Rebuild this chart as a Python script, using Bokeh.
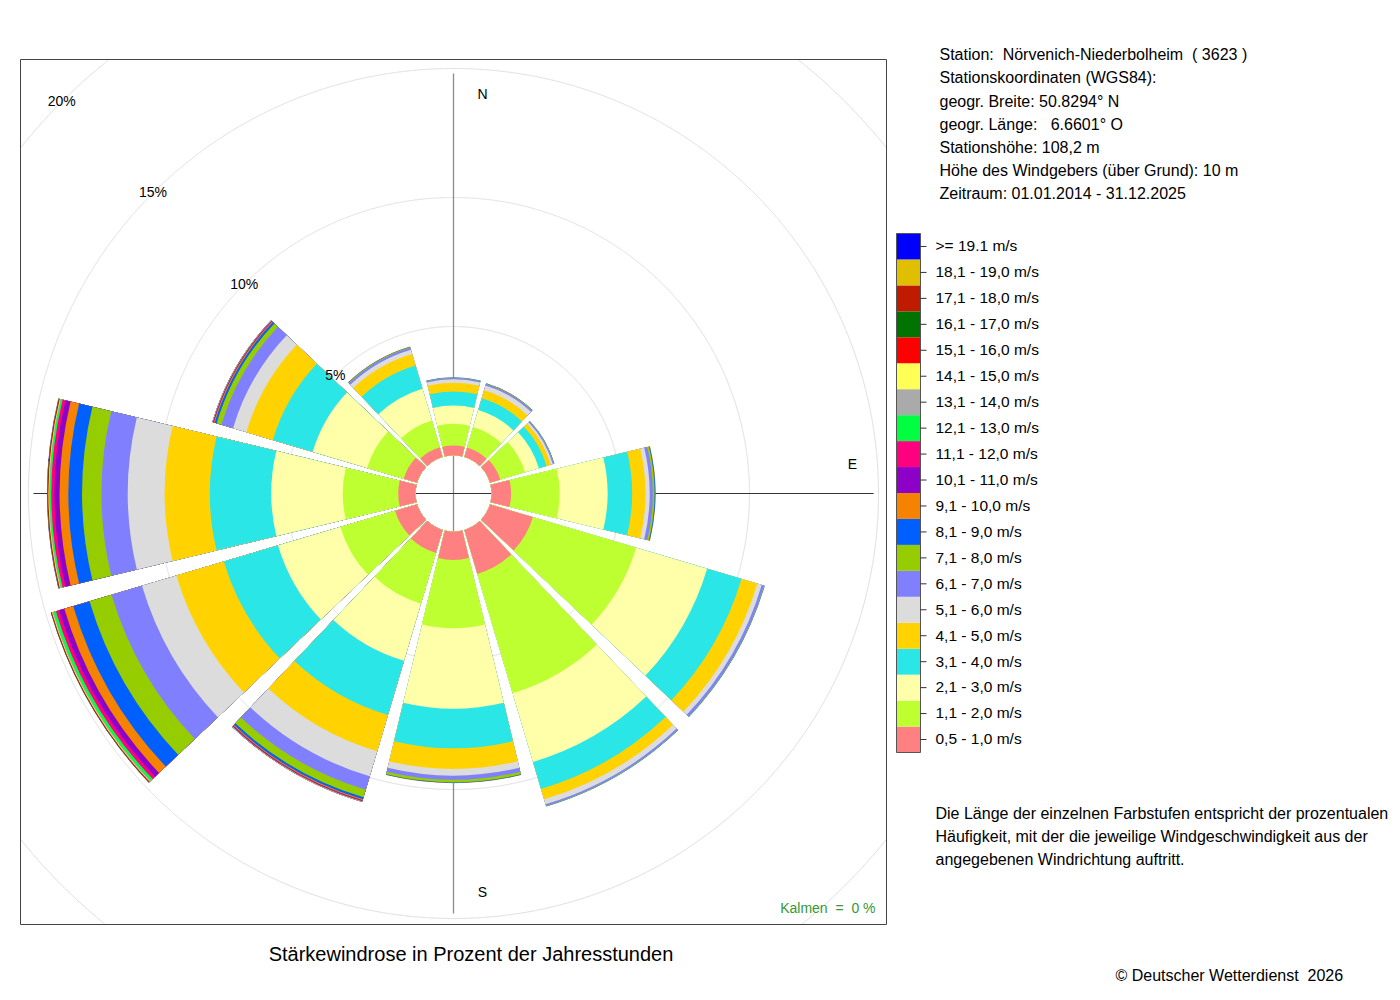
import numpy as np
from bokeh.plotting import figure
from bokeh.models import Range1d, ColumnDataSource
from bokeh.embed import file_html
from bokeh.resources import INLINE
from bokeh.core.properties import value

# ---------------- data ----------------
directions = [0, 30, 60, 90, 120, 150, 180, 210, 240, 270, 300, 330]

speed_labels = ["0,5 - 1,0 m/s", "1,1 - 2,0 m/s", "2,1 - 3,0 m/s", "3,1 - 4,0 m/s",
                "4,1 - 5,0 m/s", "5,1 - 6,0 m/s", "6,1 - 7,0 m/s", "7,1 - 8,0 m/s",
                "8,1 - 9,0 m/s", "9,1 - 10,0 m/s", "10,1 - 11,0 m/s", "11,1 - 12,0 m/s",
                "12,1 - 13,0 m/s", "13,1 - 14,0 m/s", "14,1 - 15,0 m/s", "15,1 - 16,0 m/s",
                "16,1 - 17,0 m/s", "17,1 - 18,0 m/s", "18,1 - 19,0 m/s", ">= 19.1 m/s"]

speed_colors = ["#FF8080", "#BEFF32", "#FFFFAA", "#2AE6E6", "#FFD200", "#DCDCDC",
                "#8080FF", "#96CD00", "#0060FF", "#F58200", "#8C00C8", "#FF0080",
                "#00FF40", "#AAAAAA", "#FFFF55", "#FF0000", "#007300", "#C01A00",
                "#E0BE00", "#0000FF"]

# frequency (% of hours) per speed class, one list per direction sector
freq_000 = [0.39, 0.84, 0.71, 0.54, 0.34, 0.13, 0.05, 0.02, 0.01, 0, 0, 0, 0, 0, 0, 0, 0, 0, 0, 0]
freq_030 = [0.39, 0.83, 0.68, 0.48, 0.32, 0.19, 0.06, 0.02, 0.01, 0.005, 0, 0, 0, 0, 0, 0, 0, 0, 0, 0]
freq_060 = [0.42, 1.00, 0.56, 0.31, 0.17, 0.08, 0.04, 0.02, 0.01, 0, 0, 0, 0, 0, 0, 0, 0, 0, 0, 0]
freq_090 = [0.76, 1.88, 1.86, 0.95, 0.52, 0.16, 0.12, 0.07, 0.03, 0.01, 0, 0, 0, 0, 0, 0, 0, 0, 0, 0]
freq_120 = [1.74, 4.17, 2.87, 1.39, 0.64, 0.18, 0.09, 0.02, 0.01, 0, 0, 0, 0, 0, 0, 0, 0, 0, 0, 0]
freq_150 = [1.78, 4.82, 2.78, 1.09, 0.42, 0.20, 0.06, 0.02, 0.01, 0, 0, 0, 0, 0, 0, 0, 0, 0, 0, 0]
freq_180 = [1.10, 2.65, 3.12, 1.53, 0.80, 0.26, 0.16, 0.10, 0.02, 0.01, 0, 0, 0, 0, 0, 0, 0, 0, 0, 0]
freq_210 = [0.93, 2.05, 2.31, 2.19, 1.47, 1.01, 0.54, 0.31, 0.08, 0.04, 0.02, 0.02, 0.01,
            0.005, 0.005, 0.005, 0, 0, 0, 0.005]
freq_240 = [0.89, 2.21, 2.52, 2.19, 1.92, 1.39, 1.23, 0.89, 0.66, 0.36, 0.21, 0.13, 0.10,
            0.04, 0.02, 0.02, 0.01, 0.005, 0.005, 0.01]
freq_270 = [0.67, 2.15, 2.77, 2.38, 1.75, 1.43, 1.02, 0.75, 0.53, 0.34, 0.20, 0.12, 0.06,
            0.03, 0.02, 0.02, 0.01, 0.01, 0.01, 0.01]
freq_300 = [0.54, 1.48, 2.20, 1.61, 1.07, 0.54, 0.47, 0.19, 0.08, 0.04, 0.02, 0.01, 0.01,
            0.005, 0.005, 0.005, 0, 0, 0, 0.005]
freq_330 = [0.40, 1.08, 1.28, 0.94, 0.47, 0.17, 0.08, 0.03, 0.01, 0.005, 0, 0, 0, 0, 0, 0, 0, 0, 0, 0]

ring_levels = [5, 10, 15, 20]
ring_labels = ["5%", "10%", "15%", "20%"]
compass_labels = ["N", "E", "S", "W"]
calm_percent = 0

station_lines = ["Station:\u00a0\u00a0Nörvenich-Niederbolheim\u00a0\u00a0( 3623 )",
                 "Stationskoordinaten (WGS84):",
                 "geogr. Breite: 50.8294° N",
                 "geogr. Länge:\u00a0\u00a0\u00a06.6601° O",
                 "Stationshöhe: 108,2 m",
                 "Höhe des Windgebers (über Grund): 10 m",
                 "Zeitraum: 01.01.2014 - 31.12.2025"]
note_lines = ["Die Länge der einzelnen Farbstufen entspricht der prozentualen",
              "Häufigkeit, mit der die jeweilige Windgeschwindigkeit aus der",
              "angegebenen Windrichtung auftritt."]
chart_title = "Stärkewindrose in Prozent der Jahresstunden"
copyright_text = "©\u00a0Deutscher Wetterdienst\u00a0\u00a02026"

# ---------------- layout constants ----------------
FONT = "Liberation Sans"
W, H = 1396, 996
K = 25.8          # pixels per percent
CX, CY = 453, 493  # page position of the rose centre
R0 = 38 / K        # radius of the calm circle (percent units)
HALF = np.radians(13.5)
TXT_SHIFT = -0.042  # baseline offset (fraction of font size) relative to the visual centre


def px(xp):
    return (xp - CX) / K


def py(yp):
    return (CY - yp) / K


p = figure(width=W, height=H, output_backend="svg", toolbar_location=None,
           x_range=Range1d(px(0), px(W)), y_range=Range1d(py(H), py(0)),
           x_axis_location=None, y_axis_location=None, min_border=0, title=None)
p.grid.visible = False
p.outline_line_color = None
p.background_fill_color = "white"
p.border_fill_color = "white"


def add_text(xs, ys, txt, size, align="left", color="#000000"):
    p.text(x=[px(x) for x in xs], y=[py(y + TXT_SHIFT * size) for y in ys], text=list(txt),
           text_font=value(FONT), text_font_size=value(f"{size}px"), text_align=align,
           text_baseline="alphabetic", text_color=color)


# frame limits (page px)
FL, FR, FT, FB = 20, 886, 59, 924

# ---------------- grid rings (clipped to frame) ----------------
th = np.linspace(0, 2 * np.pi, 3000)
ring_xs, ring_ys = [], []
for lev in ring_levels:
    r = R0 + lev
    x = r * np.cos(th)
    y = r * np.sin(th)
    inside = (x >= px(FL)) & (x <= px(FR)) & (y >= py(FB)) & (y <= py(FT))
    seg_x, seg_y = [], []
    for xi, yi, ok in zip(x, y, inside):
        if ok:
            seg_x.append(xi)
            seg_y.append(yi)
        elif seg_x:
            ring_xs.append(seg_x)
            ring_ys.append(seg_y)
            seg_x, seg_y = [], []
    if seg_x:
        ring_xs.append(seg_x)
        ring_ys.append(seg_y)
p.multi_line(xs=ring_xs, ys=ring_ys, line_color="#DDDDDD", line_width=1)

# axis cross
AX = 420 / K
p.segment(x0=[0], y0=[-AX], x1=[0], y1=[AX], line_color="#8C8C8C", line_width=1.3)
p.segment(x0=[-AX], y0=[0], x1=[AX], y1=[0], line_color="#333333", line_width=1)

# compass labels (W lies under the bars)
RL, OFF = 399 / K, 29 / K
cl_x = [OFF, RL, OFF, -RL]
cl_y = [RL, OFF, -RL, OFF]
p.text(x=cl_x, y=[v - TXT_SHIFT * 14 / K for v in cl_y], text=compass_labels, text_font=value(FONT),
       text_font_size=value("14px"), text_align="center", text_baseline="alphabetic",
       text_color="#000000")

# ---------------- wind rose bars ----------------
sectors = [freq_000, freq_030, freq_060, freq_090, freq_120, freq_150,
           freq_180, freq_210, freq_240, freq_270, freq_300, freq_330]
outer, start, end, col = [], [], [], []
for d, vals in zip(directions, sectors):
    cum = np.cumsum(vals)
    theta = np.radians(90 - d)
    for k in range(len(vals) - 1, -1, -1):
        if vals[k] <= 0:
            continue
        outer.append(R0 + cum[k])
        start.append(theta - HALF)
        end.append(theta + HALF)
        col.append(speed_colors[k])
src = ColumnDataSource(dict(outer=outer, start=start, end=end, color=col))
p.annular_wedge(x=0, y=0, inner_radius=R0, outer_radius="outer", start_angle="start",
                end_angle="end", fill_color="color", line_color=None, source=src)

# ring percentage labels along the NW diagonal
c45 = np.cos(np.radians(45))
p.text(x=[-(R0 + l) * c45 for l in ring_levels],
       y=[(R0 + l) * c45 - TXT_SHIFT * 14 / K for l in ring_levels],
       text=ring_labels, text_font=value(FONT), text_font_size=value("14px"),
       text_align="center", text_baseline="alphabetic", text_color="#000000")

# frame
p.quad(left=[px(FL)], right=[px(FR)], top=[py(FT)], bottom=[py(FB)], fill_color=None,
       line_color="#444444", line_width=1)

# calm text
add_text([875], [907.7], [f"Kalmen\u00a0\u00a0=\u00a0\u00a0{calm_percent} %"], 14, align="right",
         color="#339933")

# title below
add_text([470.5], [954], [chart_title], 20, align="center")

# station info
add_text([939] * len(station_lines), [55 + 23.17 * i for i in range(len(station_lines))],
         station_lines, 16)

# legend
LEG_TOP, LEG_H = 233, 25.95
n = len(speed_labels)
tops = [LEG_TOP + LEG_H * (n - 1 - c) for c in range(n)]
p.quad(left=px(896), right=px(920), top=[py(t) for t in tops],
       bottom=[py(t + LEG_H) for t in tops], fill_color=speed_colors, line_color=None)
p.quad(left=[px(896)], right=[px(920)], top=[py(LEG_TOP)], bottom=[py(LEG_TOP + n * LEG_H)],
       fill_color=None, line_color="#555555", line_width=1)
mids = [t + LEG_H / 2 for t in tops]
p.segment(x0=[px(920)] * n, x1=[px(926)] * n, y0=[py(m) for m in mids], y1=[py(m) for m in mids],
          line_color="#333333", line_width=1)
add_text([935] * n, mids, speed_labels, 15.5)

# explanatory note
add_text([935] * len(note_lines), [814 + 23 * i for i in range(len(note_lines))], note_lines, 16)

# copyright
add_text([1115], [976], [copyright_text], 16)

open("out.html", "w", encoding="utf-8").write(file_html(p, INLINE))
